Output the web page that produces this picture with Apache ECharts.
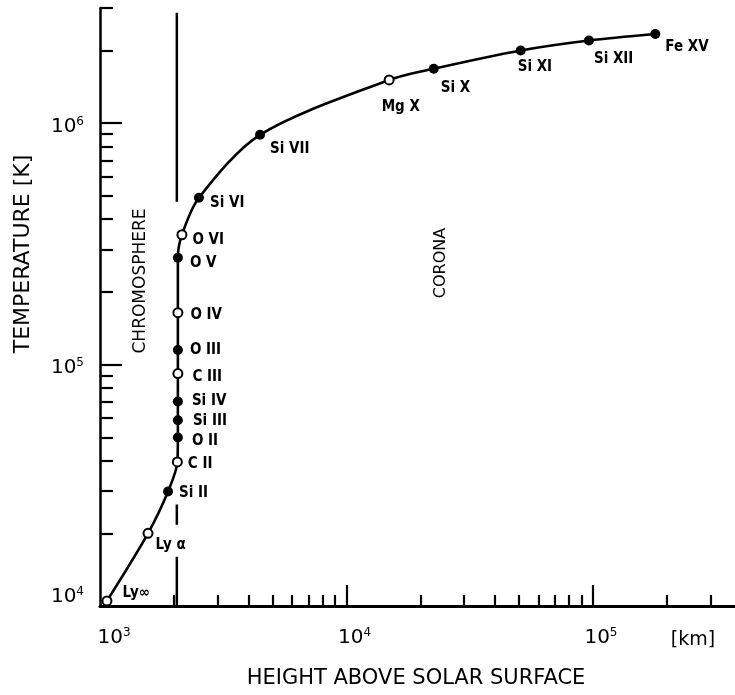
<!DOCTYPE html>
<html><head><meta charset="utf-8">
<script src="https://cdn.jsdelivr.net/npm/echarts@6/dist/echarts.min.js"></script>
<style>html,body{margin:0;padding:0;background:#fff}#c{width:735px;height:695px}</style>
</head><body><div id="c"></div>
<script>
// ---- data ----
const ions = ['Ly\u221e','Ly \u03b1','Si II','C II','O II','Si III','Si IV','C III','O III','O IV','O V','O VI','Si VI','Si VII','Mg X','Si X','Si XI','Si XII','Fe XV'];
const heightKm = [1067,1566,1888,2060,2070,2070,2070,2070,2070,2070,2070,2150,2520,4460,14900,22600,50900,96300,179000];
const tempK = [10500,20000,29800,39500,49900,58800,70300,91800,115000,164000,277000,345000,491000,895000,1510000,1680000,2000000,2200000,2340000];
const openMarker = [true,true,false,true,false,false,false,true,false,true,false,true,false,false,true,false,false,false,false];

const xLabelValues = [1e3,1e4,1e5];
const xMajorTicks = [1e4,1e5];
const xMinorTicks = [2e3,3e3,4e3,5e3,6e3,7e3,8e3,9e3,2e4,3e4,4e4,5e4,6e4,7e4,8e4,9e4,2e5,3e5];
const yLabelValues = [1e4,1e5,1e6];
const yMajorTicks = [1e5,1e6];
const yMinorTicks = [2e4,3e4,4e4,5e4,6e4,7e4,8e4,9e4,2e5,3e5,4e5,5e5,6e5,7e5,8e5,9e5,2e6,3e6];

const boundaryHeight = 2050;
const boundarySegments = [[2.87e6,4.73e5],[2.63e4,2.17e4],[1.6e4,1.0e4]];

const xRange = [1e3, 3.77e5];
const yRange = [1e4, 3e6];

// label placement (pixel offsets, style only)
const labelOffsets = {
  'Ly\u221e':[5,-8],'Ly \u03b1':[-3,12],'Si II':[1,2],'C II':[0,2],'O II':[4,4],'Si III':[5,1],'Si IV':[4,0],
  'C III':[4,4],'O III':[2,0],'O IV':[2,2],'O V':[2,5],'O VI':[0,5],'Si VI':[1,5],'Si VII':[0,14],
  'Mg X':[-18,27],'Si X':[-3,19],'Si XI':[-13,17],'Si XII':[-5,19],'Fe XV':[0,13]
};

const INK = '#000';
const FONT = 'DejaVu Sans';

function expOf(v){ return Math.round(Math.log10(v)); }

const chart = echarts.init(document.getElementById('c'), null, {renderer:'canvas'});

const series = [];
series.push({
  type:'line', xAxisIndex:0, yAxisIndex:0,
  data: heightKm.map((h,i)=>[h,tempK[i]]),
  showSymbol:false, smooth:0.3, silent:true,
  lineStyle:{color:INK, width:2.6, opacity:1}, z:2
});
boundarySegments.forEach(seg=>{
  series.push({
    type:'line', xAxisIndex:0, yAxisIndex:0,
    data: seg.map(t=>[boundaryHeight,t]),
    showSymbol:false, silent:true,
    lineStyle:{color:INK, width:2.5, opacity:1}, z:1
  });
});
series.push({
  type:'scatter', xAxisIndex:0, yAxisIndex:0, symbol:'circle', symbolSize:9, z:5,
  itemStyle:{color:INK, opacity:1},
  label:{show:true, position:'right', distance:5, formatter:'{b}', opacity:1,
    fontFamily:'DejaVu Sans Condensed, DejaVu Sans', fontWeight:'bold', fontSize:15, color:INK},
  data: ions.map((n,i)=>({
    name:n, value:[heightKm[i],tempK[i]],
    symbolSize: openMarker[i] ? 9 : 10,
    itemStyle: openMarker[i] ? {color:'#fff', borderColor:INK, borderWidth:2, opacity:1} : {color:INK, opacity:1},
    label:{offset:labelOffsets[n]}
  }))
});

const tickLine = {color:INK, width:2.2};

chart.setOption({
  backgroundColor:'#fff',
  animation:false,
  grid:{left:100, right:0, top:8, bottom:89},
  xAxis:[
    {type:'log', logBase:10, min:xRange[0], max:xRange[1],
     axisLine:{show:true, lineStyle:{color:INK, width:3}},
     axisTick:{show:true, inside:true, length:21, customValues:xMajorTicks, lineStyle:tickLine},
     axisLabel:{show:true, customValues:xLabelValues, margin:21, color:INK,
       formatter:function(v){ const e=expOf(v); return e===3 ? '{b3|10}{s|'+e+'}' : '{b|10}{s|'+e+'}'; },
       rich:{
         b:{fontFamily:FONT, fontSize:20, lineHeight:22, color:INK, padding:[0,0,0,16]},
         b3:{fontFamily:FONT, fontSize:20, lineHeight:22, color:INK, padding:[0,0,0,28]},
         s:{fontFamily:FONT, fontSize:12, color:INK, verticalAlign:'top'}
       }},
     splitLine:{show:false}, minorTick:{show:false}},
    {type:'log', logBase:10, min:xRange[0], max:xRange[1], position:'bottom',
     axisLine:{show:false},
     axisTick:{show:true, inside:true, length:11, customValues:xMinorTicks, lineStyle:tickLine},
     axisLabel:{show:false}, splitLine:{show:false}}
  ],
  yAxis:[
    {type:'log', logBase:10, min:yRange[0], max:yRange[1],
     axisLine:{show:true, lineStyle:{color:INK, width:2.5}},
     axisTick:{show:true, inside:true, length:22, customValues:yMajorTicks, lineStyle:tickLine},
     axisLabel:{show:true, customValues:yLabelValues, margin:16, color:INK, padding:[7,0,0,0],
       formatter:function(v){ const e=expOf(v); return e===4 ? '{b|10}{s|'+e+'}\n{g|}' : '{b|10}{s|'+e+'}'; },
       rich:{
         b:{fontFamily:FONT, fontSize:20, lineHeight:22, color:INK},
         s:{fontFamily:FONT, fontSize:12, color:INK, verticalAlign:'top'},
         g:{fontSize:1, lineHeight:25}
       }},
     splitLine:{show:false}, minorTick:{show:false}},
    {type:'log', logBase:10, min:yRange[0], max:yRange[1], position:'left',
     axisLine:{show:false},
     axisTick:{show:true, inside:true, length:13, customValues:yMinorTicks, lineStyle:tickLine},
     axisLabel:{show:false}, splitLine:{show:false}}
  ],
  graphic:[
    {type:'text', x:23, y:254, rotation:Math.PI/2,
     style:{text:'TEMPERATURE [K]', fill:INK, font:'22px "DejaVu Sans"', align:'center', verticalAlign:'middle', textAlign:'center', textVerticalAlign:'middle'}},
    {type:'text', x:141, y:281, rotation:Math.PI/2,
     style:{text:'CHROMOSPHERE', fill:INK, font:'17px "DejaVu Sans"', align:'center', verticalAlign:'middle', textAlign:'center', textVerticalAlign:'middle'}},
    {type:'text', x:441, y:263, rotation:Math.PI/2,
     style:{text:'CORONA', fill:INK, font:'16px "DejaVu Sans"', align:'center', verticalAlign:'middle', textAlign:'center', textVerticalAlign:'middle'}},
    {type:'text', x:416, y:679,
     style:{text:'HEIGHT ABOVE SOLAR SURFACE', fill:INK, font:'21px "DejaVu Sans"', align:'center', verticalAlign:'middle', textAlign:'center', textVerticalAlign:'middle'}},
    {type:'text', x:693, y:640,
     style:{text:'[km]', fill:INK, font:'19px "DejaVu Sans"', align:'center', verticalAlign:'middle', textAlign:'center', textVerticalAlign:'middle'}}
  ],
  series: series
});
</script>
</body></html>
